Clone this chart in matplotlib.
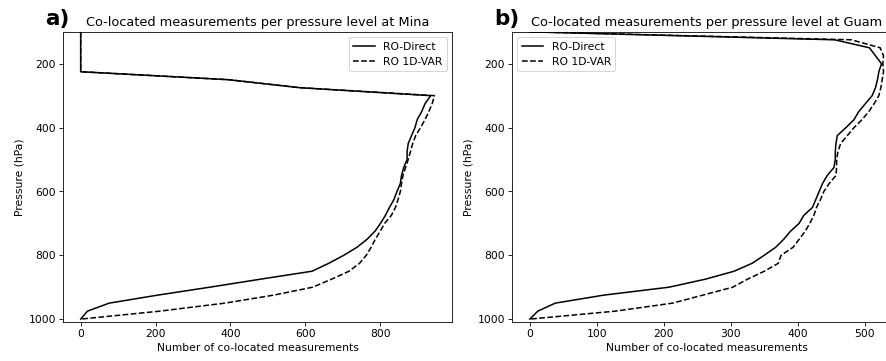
import numpy as np
import matplotlib
matplotlib.use('Agg')
import matplotlib.pyplot as plt

# Pressure levels (hPa)
pressure = [100, 125, 150, 175, 200, 225, 250, 275, 300, 325, 350, 375, 400,
            425, 450, 475, 500, 525, 550, 575, 600, 625, 650, 675, 700, 725,
            750, 775, 800, 825, 850, 875, 900, 925, 950, 975, 1000]

# Mina
mina_direct = [0, 0, 0, 0, 0, 0, 395, 585, 935, 920, 911, 899, 893, 884, 875,
               872, 872, 863, 857, 854, 845, 837, 825, 814, 801, 786, 765, 738,
               703, 663, 618, 480, 345, 205, 76, 18, 0]
mina_1dvar = [0, 0, 0, 0, 0, 0, 395, 585, 945, 939, 930, 920, 908, 895, 887,
              881, 875, 868, 861, 857, 854, 848, 841, 830, 812, 800, 787, 776,
              763, 745, 717, 670, 620, 515, 385, 212, 0]

# Guam
guam_direct = [0, 455, 507, 516, 525, 521, 519, 516, 511, 501, 491, 484, 472,
               459, 457, 456, 456, 454, 444, 437, 432, 427, 422, 409, 402, 389,
               379, 367, 350, 332, 305, 262, 208, 110, 38, 12, 0]
guam_1dvar = [0, 480, 523, 528, 527, 528, 526, 524, 521, 514, 506, 496, 484,
              474, 464, 460, 458, 458, 457, 447, 439, 434, 428, 424, 418, 411,
              402, 393, 375, 371, 350, 325, 303, 258, 213, 128, 0]

plt.rcParams['font.size'] = 10.5

dpi = 73.5
fig = plt.figure(figsize=(886.2 / dpi, 361.2 / dpi), dpi=dpi)

ax1 = fig.add_axes([63 / 886, 39 / 361, 389 / 886, 290 / 361])
ax2 = fig.add_axes([512 / 886, 39 / 361, 389 / 886, 290 / 361])

panels = [
    (ax1, mina_direct, mina_1dvar, 'Mina', 'a)', 'upper right'),
    (ax2, guam_direct, guam_1dvar, 'Guam', 'b)', 'upper left'),
]

for ax, direct, var, site, tag, loc in panels:
    ax.plot(direct, pressure, 'k-', label='RO-Direct')
    ax.plot(var, pressure, 'k--', label='RO 1D-VAR')
    ax.set_ylim(1009, 100)
    ax.set_yticks([200, 400, 600, 800, 1000])
    ax.set_xlabel('Number of co-located measurements')
    ax.set_ylabel('Pressure (hPa)')
    ax.set_title('Co-located measurements per pressure level at ' + site)
    ax.legend(loc=loc)
    ax.text(-0.046, 1.024, tag, transform=ax.transAxes, fontsize=21,
            fontweight='bold', ha='left', va='baseline')

fig.savefig('out.png', dpi=dpi)
